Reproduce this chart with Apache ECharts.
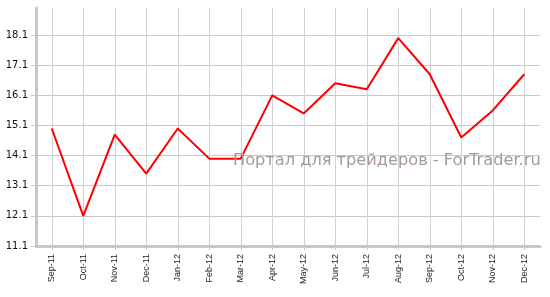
<!DOCTYPE html>
<html><head><meta charset="utf-8">
<script src="https://cdn.jsdelivr.net/npm/echarts@6/dist/echarts.min.js"></script>
<style>html,body{margin:0;padding:0;background:#fff}#c{width:550px;height:297px}</style>
</head><body><div id="c"></div>
<script>
const categories = ['Sep-11','Oct-11','Nov-11','Dec-11','Jan-12','Feb-12','Mar-12','Apr-12','May-12','Jun-12','Jul-12','Aug-12','Sep-12','Oct-12','Nov-12','Dec-12'];
const values = [15.0,12.1,14.8,13.5,15.0,14.0,14.0,16.1,15.5,16.5,16.3,18.0,16.8,14.7,15.6,16.8];
const yMin = 11.1, yMax = 19.0, yStep = 1;
const watermark = 'Портал для трейдеров - ForTrader.ru';

const chart = echarts.init(document.getElementById('c'), null, {renderer:'canvas'});
chart.setOption({
  animation:false,
  backgroundColor:'#fff',
  grid:{left:36, right:10, top:8, bottom:51, containLabel:false},
  xAxis:{
    type:'category', data:categories, boundaryGap:true,
    axisLine:{show:true, lineStyle:{color:'#c8c8c8', width:3}},
    axisTick:{show:true, alignWithLabel:true, length:4, lineStyle:{color:'#c8c8c8'}},
    axisLabel:{rotate:90, margin:8, fontFamily:'Liberation Sans', fontSize:9, color:'#222'},
    splitLine:{show:true, alignWithLabel:true, lineStyle:{color:'#d2d2d2', width:1}}
  },
  yAxis:{
    type:'value', min:yMin, max:yMax, interval:yStep,
    axisLine:{show:true, lineStyle:{color:'#c8c8c8', width:3}},
    axisTick:{show:true, length:5, lineStyle:{color:'#c8c8c8'}},
    axisLabel:{margin:8, fontFamily:'DejaVu Sans', fontSize:10, color:'#111', showMaxLabel:false,
      formatter:v=>v.toFixed(1)},
    splitLine:{show:true, showMaxLine:false, lineStyle:{color:'#c8c8c8', width:1}}
  },
  graphic:[{type:'text', left:233, top:153, z:100,
    style:{text:watermark, fill:'#a89999', font:'16.2px "DejaVu Sans"'}}],
  series:[{type:'line', data:values, symbol:'none',
    lineStyle:{color:'#ff0000', width:2}, z:5}]
});
</script></body></html>
